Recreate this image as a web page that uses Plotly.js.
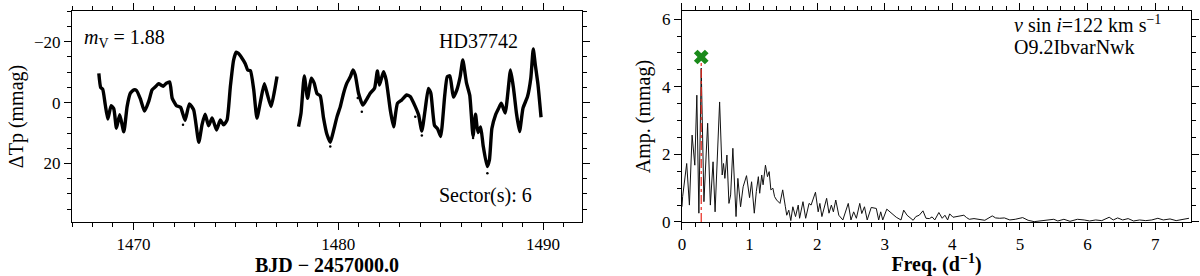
<!DOCTYPE html>
<html>
<head>
<meta charset="utf-8">
<script src="https://cdn.plot.ly/plotly-3.0.1.min.js"></script>
<style>html,body{margin:0;padding:0;background:#fff;}#chart{width:1200px;height:276px;}</style>
</head>
<body>
<div id="chart"></div>
<script>
// ---- Light curve (BJD - 2457000.0, ΔTp in mmag) ----
const lcTime1 = [1468.31,1468.40,1468.50,1468.62,1468.75,1468.91,1469.04,1469.17,1469.33,1469.53,1469.69,1469.85,1470.02,1470.15,1470.34,1470.54,1470.75,1470.91,1471.07,1471.23,1471.45,1471.61,1471.77,1471.89,1472.10,1472.30,1472.52,1472.73,1472.94,1473.19,1473.35,1473.50,1473.67,1473.84,1474.06,1474.24,1474.40,1474.57,1474.73,1474.89,1475.02,1475.12,1475.30,1475.46,1475.58,1475.71,1475.87,1476.03,1476.20,1476.39,1476.55,1476.72,1476.88,1477.01];
const lcFlux1 = [-9.6,-5.0,-4.4,0.5,5.4,1.0,2.0,8.4,4.0,9.6,1.3,-3.1,-4.2,-4.0,-1.2,2.8,-0.5,-4.2,-5.2,-6.2,-5.4,-6.4,-6.8,-1.5,1.0,1.5,5.8,0.4,2.4,13.0,7.2,3.8,7.6,5.0,9.0,5.7,7.3,5.7,-5.2,-14.0,-16.6,-16.2,-14.6,-12.8,-10.7,-10.5,-4.4,5.1,-0.3,-6.2,-2.4,1.3,-3.6,-8.6];
const lcTime2 = [1478.06,1478.18,1478.34,1478.50,1478.68,1478.82,1478.96,1479.12,1479.28,1479.45,1479.61,1479.74,1479.94,1480.10,1480.26,1480.42,1480.59,1480.72,1480.83,1480.99,1481.20,1481.37,1481.56,1481.77,1481.91,1482.01,1482.21,1482.34,1482.54,1482.70,1482.89,1483.10,1483.34,1483.51,1483.76,1483.92,1484.08,1484.24,1484.40,1484.52,1484.70,1484.85,1485.00,1485.20,1485.32,1485.45,1485.62,1485.79,1485.95,1486.08,1486.26,1486.42,1486.58,1486.70,1486.82,1486.95,1487.08,1487.27,1487.38,1487.50,1487.68,1487.82,1487.96,1488.15,1488.41,1488.56,1488.70,1488.85,1489.02,1489.24,1489.40,1489.52,1489.62,1489.75,1489.90];
const lcFlux2 = [7.9,3.5,-8.8,-1.4,-8.0,-6.5,-3.0,-2.2,5.0,10.5,13.0,10.0,4.6,1.3,-3.1,-6.4,-8.5,-10.7,-9.1,-3.1,0.8,-0.9,-3.1,-4.7,-10.4,-5.8,-10.2,-7.4,2.4,7.9,0.2,-0.9,-2.5,-2.0,1.3,4.0,9.3,2.4,-4.7,-3.1,7.5,8.6,11.1,-2.5,-8.5,-8.8,-1.8,-4.2,-8.5,-14.0,-6.5,-2.4,11.0,3.8,9.8,8.0,14.4,21.0,18.8,8.5,4.0,2.0,0.2,3.4,-10.7,-4.5,3.5,9.5,1.8,-2.0,-8.0,-17.6,-12.4,-6.0,4.8];
// a few scattered points off the main curve
const lcOutT = [1472.42,1479.61,1481.15,1483.76,1484.08,1486.58,1487.28,1480.95];
const lcOutF = [7.3,14.4,3.0,4.6,10.8,11.6,23.2,-1.5];

// ---- Amplitude spectrum ----
const freq = [0.00,0.01,0.07,0.11,0.15,0.19,0.22,0.25,0.285,0.325,0.38,0.42,0.46,0.49,0.557,0.595,0.615,0.635,0.665,0.695,0.72,0.753,0.80,0.827,0.867,0.905,0.955,1.00,1.03,1.07,1.10,1.13,1.15,1.18,1.20,1.235,1.265,1.29,1.315,1.345,1.37,1.40,1.45,1.49,1.53,1.55,1.58,1.61,1.64,1.68,1.72,1.74,1.79,1.83,1.88,1.91,1.975,2.015,2.04,2.07,2.14,2.175,2.21,2.24,2.275,2.32,2.38,2.46,2.50,2.54,2.58,2.63,2.66,2.70,2.74,2.80,2.875,2.91,2.94,2.97,3.03,3.10,3.17,3.24,3.28,3.33,3.38,3.42,3.46,3.51,3.565,3.61,3.66,3.70,3.74,3.80,3.85,3.89,3.93,3.96,4.01,4.07,4.12,4.17,4.21,4.25,4.32,4.40,4.48,4.59,4.64,4.70,4.77,4.85,4.93,5.04,5.12,5.21,5.30,5.41,5.50,5.56,5.65,5.74,5.85,5.95,6.03,6.12,6.21,6.32,6.38,6.445,6.52,6.60,6.68,6.77,6.86,6.95,7.04,7.12,7.22,7.31,7.40,7.50];
const amp = [0.45,0.75,1.73,0.5,2.57,1.68,3.75,0.26,4.55,0.6,2.92,0.5,1.78,0.3,3.55,1.39,1.73,1.29,1.98,0.55,0.8,2.18,0.16,1.29,0.45,1.04,1.37,0.72,1.19,0.26,0.9,1.34,0.85,1.39,1.1,1.68,1.34,1.49,0.95,1.0,0.75,0.65,0.55,0.95,0.45,0.2,0.35,0.04,0.45,0.16,0.5,0.11,0.6,0.11,0.55,0.5,0.88,0.3,0.55,0.16,0.7,0.26,0.5,0.3,0.65,0.2,0.06,0.55,0.06,0.3,0.11,0.55,0.25,0.45,0.06,0.43,0.4,0.06,0.3,0.06,0.38,0.26,0.14,0.06,0.35,0.2,0.11,0.05,0.16,0.2,0.33,0.11,0.1,0.15,0.06,0.28,0.11,0.2,0.06,0.24,0.14,0.16,0.18,0.2,0.13,0.08,0.1,0.08,0.05,0.18,0.12,0.11,0.12,0.06,0.08,0.13,0.05,0.01,0.03,0.06,0.08,0.03,0.08,0.02,0.08,0.06,0.03,0.06,0.04,0.14,0.06,0.12,0.06,0.1,0.03,0.06,0.04,0.06,0.11,0.06,0.09,0.04,0.08,0.11];
const peakFreq = [0.285];
const peakAmp = [4.88];
const peakLineY = [0, 4.75];

// ---- Labels ----
const starName = 'HD37742';
const magText = '<i>m</i><sub>V</sub> = 1.88';
const sectorText = 'Sector(s): 6';
const vsiniText = '<i>v</i> sin <i>i</i>=122 km s<sup>−1</sup>';
const spTypeText = 'O9.2IbvarNwk';

const FONT = 'Liberation Serif, Times New Roman, serif';

const lcT = lcTime1.concat([null], lcTime2);
const lcF = lcFlux1.concat([null], lcFlux2);

const traces = [
  {x: lcT, y: lcF, xaxis: 'x', yaxis: 'y', mode: 'lines', connectgaps: false,
   line: {color: '#000', width: 3.4, shape: 'spline', smoothing: 0.5}, hoverinfo: 'skip'},
  {x: lcOutT, y: lcOutF, xaxis: 'x', yaxis: 'y', mode: 'markers',
   marker: {color: '#000', size: 2.5}, hoverinfo: 'skip'},
  {x: freq, y: amp, xaxis: 'x2', yaxis: 'y2', mode: 'lines',
   line: {color: '#111', width: 1}, hoverinfo: 'skip'},
  {x: [peakFreq[0], peakFreq[0]], y: peakLineY, xaxis: 'x2', yaxis: 'y2', mode: 'lines',
   line: {color: '#e8281e', width: 1.2, dash: 'dashdot'}, hoverinfo: 'skip'},
  {x: peakFreq, y: peakAmp, xaxis: 'x2', yaxis: 'y2', mode: 'markers',
   marker: {color: '#1a8a1a', size: 13, symbol: 'x', line: {width: 0}}, hoverinfo: 'skip'}
];

const axBase = {
  showline: true, linecolor: '#000', linewidth: 1, mirror: 'ticks',
  ticks: 'outside', ticklen: 7, tickwidth: 1, tickcolor: '#000',
  showgrid: false, zeroline: false,
  tickfont: {family: FONT, size: 17, color: '#000'}
};

const layout = {
  width: 1200, height: 276,
  margin: {l: 0, r: 0, t: 0, b: 0},
  paper_bgcolor: '#fff', plot_bgcolor: '#fff',
  showlegend: false,
  xaxis: Object.assign({}, axBase, {
    domain: [0.06, 0.485], range: [1467.0, 1491.9],
    tickvals: [1470, 1480, 1490],
    minor: {dtick: 1, tick0: 1467, ticklen: 4, ticks: 'outside', tickcolor: '#000'},
    title: {text: '<b>BJD − 2457000.0</b>', font: {family: FONT, size: 20, color: '#000'}, standoff: 6},
    anchor: 'y'
  }),
  yaxis: Object.assign({}, axBase, {
    domain: [0.1957, 0.9601], range: [39.2, -30.1],
    tickvals: [-20, 0, 20],
    minor: {dtick: 5, tick0: 0, ticklen: 4, ticks: 'outside', tickcolor: '#000'},
    title: {text: 'ΔTp (mmag)', font: {family: FONT, size: 20, color: '#000'}, standoff: 4},
    anchor: 'x'
  }),
  xaxis2: Object.assign({}, axBase, {
    domain: [0.5683, 0.9925], range: [0, 7.53],
    dtick: 1, tick0: 0,
    minor: {dtick: 0.2, tick0: 0, ticklen: 4, ticks: 'outside', tickcolor: '#000'},
    title: {text: '<b>Freq. (d<sup>−1</sup>)</b>', font: {family: FONT, size: 20, color: '#000'}, standoff: 6},
    anchor: 'y2'
  }),
  yaxis2: Object.assign({}, axBase, {
    domain: [0.1957, 0.9601], range: [0, 6.24],
    dtick: 2, tick0: 0,
    minor: {dtick: 0.5, tick0: 0, ticklen: 4, ticks: 'outside', tickcolor: '#000'},
    title: {text: 'Amp. (mmag)', font: {family: FONT, size: 20, color: '#000'}, standoff: 6},
    anchor: 'x2'
  }),
  annotations: [
    {text: magText, xref: 'paper', yref: 'paper', x: 82/1200, y: 1 - 39/276, xanchor: 'left', yanchor: 'middle', showarrow: false, font: {family: FONT, size: 20, color: '#000'}},
    {text: starName, xref: 'paper', yref: 'paper', x: 437/1200, y: 1 - 41/276, xanchor: 'left', yanchor: 'middle', showarrow: false, font: {family: FONT, size: 20, color: '#000'}},
    {text: sectorText, xref: 'paper', yref: 'paper', x: 437/1200, y: 1 - 195/276, xanchor: 'left', yanchor: 'middle', showarrow: false, font: {family: FONT, size: 20, color: '#000'}},
    {text: vsiniText, xref: 'paper', yref: 'paper', x: 1012/1200, y: 1 - 24/276, xanchor: 'left', yanchor: 'middle', showarrow: false, font: {family: FONT, size: 20, color: '#000'}},
    {text: spTypeText, xref: 'paper', yref: 'paper', x: 1012/1200, y: 1 - 47/276, xanchor: 'left', yanchor: 'middle', showarrow: false, font: {family: FONT, size: 20, color: '#000'}}
  ]
};

Plotly.newPlot('chart', traces, layout, {staticPlot: true, displayModeBar: false});
</script>
</body>
</html>
